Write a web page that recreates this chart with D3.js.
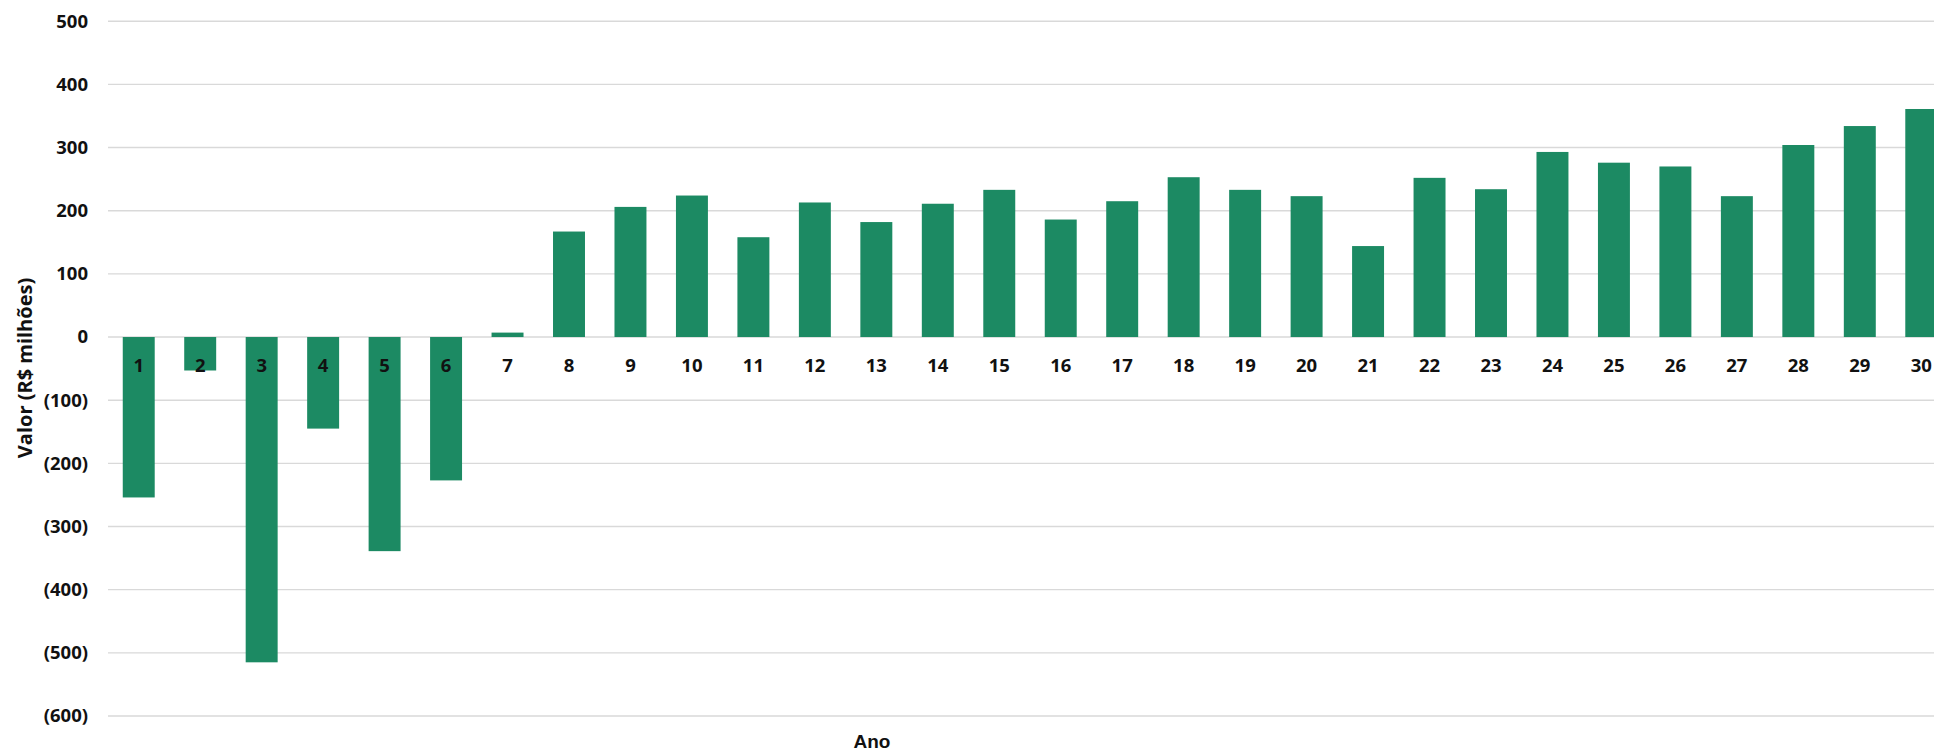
<!DOCTYPE html>
<html>
<head>
<meta charset="utf-8">
<script src="https://cdn.jsdelivr.net/npm/d3@7"></script>
<style>
  html, body { margin: 0; padding: 0; background: #fff; overflow: hidden; }
  svg { display: block; }
</style>
</head>
<body>
<svg id="chart" width="1934" height="753"></svg>
<script>
// Annual values (R$ millions), years 1..30
const anos = d3.range(1, 31).map(String);
const valores = [
  -254, -53, -515, -145, -339, -227, 7, 167, 206, 224,
  158, 213, 182, 211, 233, 186, 215, 253, 233, 223,
  144, 252, 234, 293, 276, 270, 223, 304, 334, 361
];
const yTicks = [500, 400, 300, 200, 100, 0, -100, -200, -300, -400, -500, -600];

const labelFont = "'Open Sans', Lato, sans-serif";

const svg = d3.select("#chart");

const x = d3.scaleBand()
  .domain(anos)
  .range([108, 1952])
  .paddingInner(0.48)
  .paddingOuter(0.24);

const y = d3.scaleLinear()
  .domain([-600, 500])
  .range([716, 21.2]);

const fmt = v => v < 0 ? `(${Math.abs(v)})` : String(v);

// Horizontal gridlines
svg.append("g")
  .selectAll("line")
  .data(yTicks)
  .join("line")
  .attr("x1", 108)
  .attr("x2", 1934)
  .attr("y1", d => y(d))
  .attr("y2", d => y(d))
  .attr("stroke", "#d9d9d9")
  .attr("stroke-width", 1.4);

// Y axis labels
const yAxis = d3.axisLeft(y).tickValues(yTicks).tickFormat(fmt).tickSize(0).tickPadding(0);
svg.append("g")
  .attr("transform", "translate(88,0)")
  .call(yAxis)
  .call(g => g.select(".domain").remove())
  .call(g => g.selectAll("text")
    .attr("font-family", labelFont)
    .attr("font-weight", "bold")
    .attr("font-size", 18.5)
    .attr("fill", "#111"));

// Bars
svg.append("g")
  .selectAll("rect")
  .data(valores)
  .join("rect")
  .attr("x", (d, i) => x(anos[i]))
  .attr("width", x.bandwidth())
  .attr("y", d => y(Math.max(0, d)))
  .attr("height", d => Math.abs(y(d) - y(0)))
  .attr("fill", "#1c8a63");

// Year labels along the zero line
const xAxis = d3.axisBottom(x).tickSize(0).tickPadding(0);
svg.append("g")
  .attr("transform", `translate(0,${y(0)})`)
  .call(xAxis)
  .call(g => g.select(".domain").remove())
  .call(g => g.selectAll("text")
    .attr("dy", 0)
    .attr("y", 35)
    .attr("font-family", labelFont)
    .attr("font-weight", "bold")
    .attr("font-size", 18.5)
    .attr("fill", "#111"));

// Axis titles
svg.append("text")
  .attr("transform", "translate(32,368) rotate(-90)")
  .attr("text-anchor", "middle")
  .attr("font-family", labelFont)
  .attr("font-weight", "bold")
  .attr("font-size", 20)
  .attr("fill", "#111")
  .text("Valor (R$ milhões)");

svg.append("text")
  .attr("x", 872)
  .attr("y", 748)
  .attr("text-anchor", "middle")
  .attr("font-family", "'Liberation Sans', Arial, sans-serif")
  .attr("font-weight", "bold")
  .attr("font-size", 19)
  .attr("fill", "#111")
  .text("Ano");
</script>
</body>
</html>
